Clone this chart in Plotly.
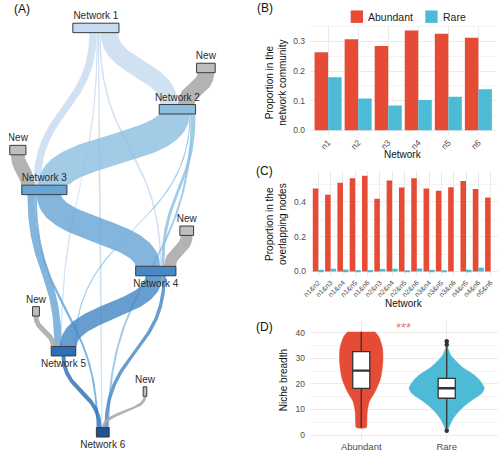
import numpy as np
import plotly.graph_objects as go

# ======================= DATA =======================
# Panel A - module flow diagram
node_ids = ["N1", "N2", "N3", "N4", "N5", "N6", "W2", "W3", "W4", "W5", "W6"]
node_names = ["Network 1", "Network 2", "Network 3", "Network 4", "Network 5", "Network 6",
              "New", "New", "New", "New", "New"]
node_size = [47, 37, 46, 41, 25, 13, 19, 16.5, 14, 7, 3.7]

link_source = ["N1", "N1", "N1", "N1", "N1", "W2", "N2", "N2", "N2", "N2", "W3",
               "N3", "N3", "N3", "W4", "N4", "N4", "W5", "N5", "W6"]
link_target = ["N2", "N3", "N4", "N5", "N6", "N2", "N3", "N4", "N5", "N6", "N3",
               "N4", "N5", "N6", "N4", "N5", "N6", "N5", "N6", "N6"]
link_value = [18, 7.5, 1.5, 1.2, 1.2, 17, 31, 3, 1.2, 2, 14,
              25, 7.5, 2, 12, 17, 3.5, 5, 4, 3]

# Panel B
networks = ["n1", "n2", "n3", "n4", "n5", "n6"]
b_abundant = [0.264, 0.308, 0.285, 0.337, 0.326, 0.313]
b_rare = [0.179, 0.107, 0.083, 0.102, 0.113, 0.138]

# Panel C
pairs = ["n1&n2", "n1&n3", "n1&n4", "n1&n5", "n1&n6", "n2&n3", "n2&n4", "n2&n5",
         "n2&n6", "n3&n4", "n3&n5", "n3&n6", "n4&n5", "n4&n6", "n5&n6"]
c_abundant = [0.476, 0.440, 0.510, 0.535, 0.549, 0.417, 0.522, 0.482,
              0.535, 0.476, 0.463, 0.484, 0.520, 0.474, 0.425]
c_rare = [0.010, 0.016, 0.011, 0.009, 0.009, 0.015, 0.016, 0.007,
          0.017, 0.010, 0.006, 0.000, 0.010, 0.021, 0.000]

# Panel D
groups = ["Abundant", "Rare"]
d_q1 = [18.3, 14.4]
d_median = [25.2, 18.3]
d_q3 = [32.6, 22.2]
d_lower = [3.0, 2.5]
d_upper = [40.4, 34.5]
rare_outliers = [35.3, 36.7, 1.7]
ab_level = [40.4, 39.1, 37.8, 33.9, 28.7, 22.2, 17.0, 13.1, 9.2, 5.3, 3.0]
ab_density = [0.159, 0.192, 0.215, 0.249, 0.253, 0.226, 0.163, 0.095, 0.071, 0.066, 0.060]
rare_level = [34.5, 33.2, 31.2, 28.7, 26.1, 23.5, 20.9, 18.3, 16.4, 13.7, 11.2, 8.6, 6.0, 3.4, 1.9]
rare_density = [0.006, 0.023, 0.048, 0.115, 0.201, 0.322, 0.399, 0.440, 0.411, 0.297,
                0.201, 0.124, 0.067, 0.029, 0.009]

# ======================= STYLE / LAYOUT =======================
W, H = 498, 452
FONT = "Liberation Sans, Arial, Helvetica, sans-serif"
RED = "#E64B35"
BLUE = "#4DBBD5"
GRID = "#ebebeb"
TICK = "#4d4d4d"
BOXW = 0.1  # half-width of boxplots in category units

PX = 1.0          # px per unit of flow / node size
NODE_H = 9.5
NODE_POS = {  # centre x, top y in panel-A px space
    "N1": (88.5, 23.3), "N2": (171.5, 105), "N3": (36, 186), "N4": (149.5, 267.5),
    "N5": (55.5, 348), "N6": (95.5, 429.5),
    "W2": (200.5, 63.5), "W3": (9, 146), "W4": (181, 227), "W5": (27.5, 308), "W6": (138.5, 388.5),
}
OUT_SHIFT = {"N1": 8}
LABEL_BELOW = {"N4", "N5", "N6"}
NODE_COLOR = {"N1": "#c6dbef", "N2": "#8dbfe0", "N3": "#68a5d5", "N4": "#4689c4",
              "N5": "#2c6fb2", "N6": "#1b5494"}
GRAY = "#bdbdbd"


def hex_rgba(h, a):
    h = h.lstrip("#")
    return "rgba(%d,%d,%d,%.2f)" % (int(h[0:2], 16), int(h[2:4], 16), int(h[4:6], 16), a)


def bez(p0, p1, p2, p3, t):
    return (1 - t) ** 3 * p0 + 3 * (1 - t) ** 2 * t * p1 + 3 * (1 - t) * t ** 2 * p2 + t ** 3 * p3


def dbez(p0, p1, p2, p3, t):
    return 3 * (1 - t) ** 2 * (p1 - p0) + 6 * (1 - t) * t * (p2 - p1) + 3 * t ** 2 * (p3 - p2)


fig = go.Figure()

# ---------- Panel A ----------
idx = {n: i for i, n in enumerate(node_ids)}
L = len(link_value)
out_pos, in_pos = {}, {}
for nid in node_ids:
    width = node_size[idx[nid]] * PX
    ks = [k for k in range(L) if link_source[k] == nid]
    ks.sort(key=lambda k: NODE_POS[link_target[k]][0])
    tot = sum(link_value[k] for k in ks) * PX
    if ks:
        f = min(1.0, width / tot)
        cx = NODE_POS[nid][0] + OUT_SHIFT.get(nid, 0)
        start = cx - tot * f / 2
        cum = 0
        for k in ks:
            w = link_value[k] * PX
            out_pos[k] = start + (cum + w / 2) * f
            cum += w
    ks = [k for k in range(L) if link_target[k] == nid]
    ks.sort(key=lambda k: NODE_POS[link_source[k]][0])
    tot = sum(link_value[k] for k in ks) * PX
    if ks:
        f = min(1.0, width / tot)
        cx = NODE_POS[nid][0]
        start = cx - tot * f / 2
        cum = 0
        for k in ks:
            w = link_value[k] * PX
            in_pos[k] = start + (cum + w / 2) * f
            cum += w

t = np.linspace(0, 1, 80)
for k in range(L):
    s, tg = link_source[k], link_target[k]
    x0, y0 = out_pos[k], NODE_POS[s][1] + NODE_H
    x1, y1 = in_pos[k], NODE_POS[tg][1]
    dy = (y1 - y0) * 0.5
    w = link_value[k] * PX
    cxs = bez(x0, x0, x1, x1, t)
    cys = bez(y0, y0 + dy, y1 - dy, y1, t)
    tx = dbez(x0, x0, x1, x1, t)
    ty = dbez(y0, y0 + dy, y1 - dy, y1, t)
    nrm = np.hypot(tx, ty)
    nx, ny = ty / nrm, -tx / nrm          # unit normal
    xl, yl = cxs - nx * w / 2, cys - ny * w / 2
    xr, yr = cxs + nx * w / 2, cys + ny * w / 2
    col = hex_rgba(NODE_COLOR[s], 0.82) if s in NODE_COLOR else hex_rgba("#a8a8a8", 0.88)
    fig.add_trace(go.Scatter(
        x=np.concatenate([xl, xr[::-1]]), y=np.concatenate([yl, yr[::-1]]),
        mode="lines", fill="toself", fillcolor=col, line=dict(width=0),
        hoverinfo="skip", showlegend=False, xaxis="x", yaxis="y"))

for nid in node_ids:
    cx, top = NODE_POS[nid]
    w = node_size[idx[nid]] * PX
    fig.add_trace(go.Scatter(
        x=[cx - w / 2, cx + w / 2, cx + w / 2, cx - w / 2, cx - w / 2],
        y=[top, top, top + NODE_H, top + NODE_H, top],
        mode="lines", fill="toself", fillcolor=NODE_COLOR.get(nid, GRAY),
        line=dict(color="#3a3a3a", width=1), hoverinfo="skip", showlegend=False,
        xaxis="x", yaxis="y"))

lab_x = [NODE_POS[n][0] for n in node_ids]
lab_y = [NODE_POS[n][1] + NODE_H + 8.5 if n in LABEL_BELOW else NODE_POS[n][1] - 6.5 for n in node_ids]
fig.add_trace(go.Scatter(x=lab_x, y=lab_y, text=node_names, mode="text",
                         textfont=dict(size=10, color="#2a2a2a", family=FONT),
                         hoverinfo="skip", showlegend=False, xaxis="x", yaxis="y"))

# ---------- Panel B ----------
fig.add_trace(go.Bar(x=networks, y=b_abundant, name="Abundant", marker=dict(color=RED, line=dict(width=0)),
                     showlegend=False, xaxis="x2", yaxis="y2"))
fig.add_trace(go.Bar(x=networks, y=b_rare, name="Rare", marker=dict(color=BLUE, line=dict(width=0)),
                     showlegend=False, xaxis="x2", yaxis="y2"))

# ---------- Panel C ----------
fig.add_trace(go.Bar(x=pairs, y=c_abundant, name="Abundant", marker=dict(color=RED, line=dict(width=0)),
                     showlegend=False, xaxis="x3", yaxis="y3"))
fig.add_trace(go.Bar(x=pairs, y=c_rare, name="Rare", marker=dict(color=BLUE, line=dict(width=0)),
                     showlegend=False, xaxis="x3", yaxis="y3"))

# ---------- Panel D ----------
for gi, (lev, dens, col) in enumerate([(ab_level, ab_density, RED), (rare_level, rare_density, BLUE)]):
    lev = np.array(lev)
    dens = np.array(dens)
    xs = np.concatenate([gi + dens, (gi - dens)[::-1]])
    ys = np.concatenate([lev, lev[::-1]])
    fig.add_trace(go.Scatter(x=xs, y=ys, mode="lines", fill="toself", fillcolor=col,
                             line=dict(color=col, width=0.5, shape="spline", smoothing=0.7),
                             hoverinfo="skip", showlegend=False, xaxis="x4", yaxis="y4"))

for gi in range(len(groups)):
    fig.add_trace(go.Scatter(x=[gi, gi, None, gi, gi], y=[d_upper[gi], d_q3[gi], None, d_q1[gi], d_lower[gi]],
                             mode="lines", line=dict(color="#333333", width=1.3),
                             hoverinfo="skip", showlegend=False, xaxis="x4", yaxis="y4"))
    fig.add_trace(go.Scatter(x=[gi - BOXW, gi + BOXW, gi + BOXW, gi - BOXW, gi - BOXW],
                             y=[d_q1[gi], d_q1[gi], d_q3[gi], d_q3[gi], d_q1[gi]],
                             mode="lines", fill="toself", fillcolor="white",
                             line=dict(color="#333333", width=1.3),
                             hoverinfo="skip", showlegend=False, xaxis="x4", yaxis="y4"))
    fig.add_trace(go.Scatter(x=[gi - BOXW, gi + BOXW], y=[d_median[gi], d_median[gi]],
                             mode="lines", line=dict(color="#333333", width=2.4),
                             hoverinfo="skip", showlegend=False, xaxis="x4", yaxis="y4"))

fig.add_trace(go.Scatter(x=[1] * len(rare_outliers), y=rare_outliers, mode="markers",
                         marker=dict(color="#333333", size=4.5), showlegend=False,
                         hoverinfo="skip", xaxis="x4", yaxis="y4"))


# ======================= AXES =======================
def px_x(a, b):
    return [a / W, min(b / W, 1.0)]


def px_y(top, bottom):
    return [1 - bottom / H, 1 - top / H]


tickf = dict(size=8.5, color=TICK, family=FONT)
common_y = dict(showline=False, zeroline=False, gridcolor=GRID, gridwidth=1, ticks="",
                tickfont=tickf, fixedrange=True, ticklabelstandoff=4)
common_x = dict(showline=False, zeroline=False, gridcolor=GRID, showgrid=True, ticks="",
                fixedrange=True)

fig.update_layout(
    width=W, height=H, margin=dict(l=0, r=0, t=0, b=0),
    plot_bgcolor="white", paper_bgcolor="white",
    font=dict(family=FONT, color="#222222"),
    barmode="group", bargap=0.1, bargroupgap=0, showlegend=False,
    xaxis=dict(domain=px_x(0, 245), range=[0, 245], visible=False, fixedrange=True),
    yaxis=dict(domain=[0, 1], range=[H, 0], visible=False, fixedrange=True, anchor="x"),
    xaxis2=dict(domain=px_x(306.6, 496.4), anchor="y2", type="category",
                range=[-0.6, len(networks) - 0.4], tickangle=-45,
                tickfont=dict(size=8.5, color=TICK, family=FONT), **common_x),
    yaxis2=dict(domain=px_y(25.7, 135.7), anchor="x2", range=[-0.01685, 0.3539],
                dtick=0.1, tickformat=".1f",
                minor=dict(dtick=0.05, showgrid=True, gridcolor="#f3f3f3", gridwidth=0.6),
                **common_y),
    xaxis3=dict(domain=px_x(307.5, 498), anchor="y3", type="category",
                range=[-0.6, len(pairs) - 0.4], tickangle=-45,
                tickfont=dict(size=7, color=TICK, family=FONT), **common_x),
    yaxis3=dict(domain=px_y(171.9, 277.5), anchor="x3", range=[-0.0274, 0.576],
                dtick=0.2, tickformat=".1f",
                minor=dict(dtick=0.1, showgrid=True, gridcolor="#f3f3f3", gridwidth=0.6),
                **common_y),
    xaxis4=dict(domain=px_x(306.5, 498), anchor="y4", range=[-0.6, 1.6],
                tickvals=[0, 1], ticktext=groups,
                tickfont=dict(size=9.5, color=TICK, family=FONT), **common_x),
    yaxis4=dict(domain=px_y(322.7, 441.9), anchor="x4", range=[-1.9, 44.5],
                dtick=10, minor=dict(dtick=5, showgrid=True, gridcolor="#f3f3f3", gridwidth=0.6),
                **common_y),
)


def ann(text, x, y, size=10, color="#111111", angle=0, xanchor="center"):
    fig.add_annotation(text=text, x=x / W, y=1 - y / H, xref="paper", yref="paper",
                       showarrow=False, textangle=angle, xanchor=xanchor, yanchor="middle",
                       font=dict(size=size, color=color, family=FONT))


# legend of panel B (drawn as keys + text)
LEGEND = [("Abundant", RED, 348), ("Rare", BLUE, 424)]
for name, col, lx in LEGEND:
    fig.add_shape(type="rect", xref="paper", yref="paper",
                  x0=lx / W, x1=(lx + 12.5) / W, y0=1 - 23 / H, y1=1 - 10.5 / H,
                  fillcolor=col, line=dict(width=0))
    ann(name, lx + 15.5, 16.8, size=10.5, color="#222222", xanchor="left")

ann("(A)", 3, 9, size=12, xanchor="left")
ann("(B)", 251, 8, size=12, xanchor="left")
ann("(C)", 250, 172, size=12, xanchor="left")
ann("(D)", 250, 328, size=12, xanchor="left")
ann("Proportion in the<br>network community", 272, 83, angle=-90)
ann("Proportion in the<br>overlapping nodes", 272, 225, angle=-90)
ann("Niche breadth", 279, 382, angle=-90)
ann("Network", 401.5, 155, size=10)
ann("Network", 402, 305, size=10)
ann("***", 402, 329, size=13, color="#e8776b")

fig.write_html("out.html", config={"displayModeBar": False},
               post_script="document.body.style.margin='0';document.body.style.overflow='hidden';")
